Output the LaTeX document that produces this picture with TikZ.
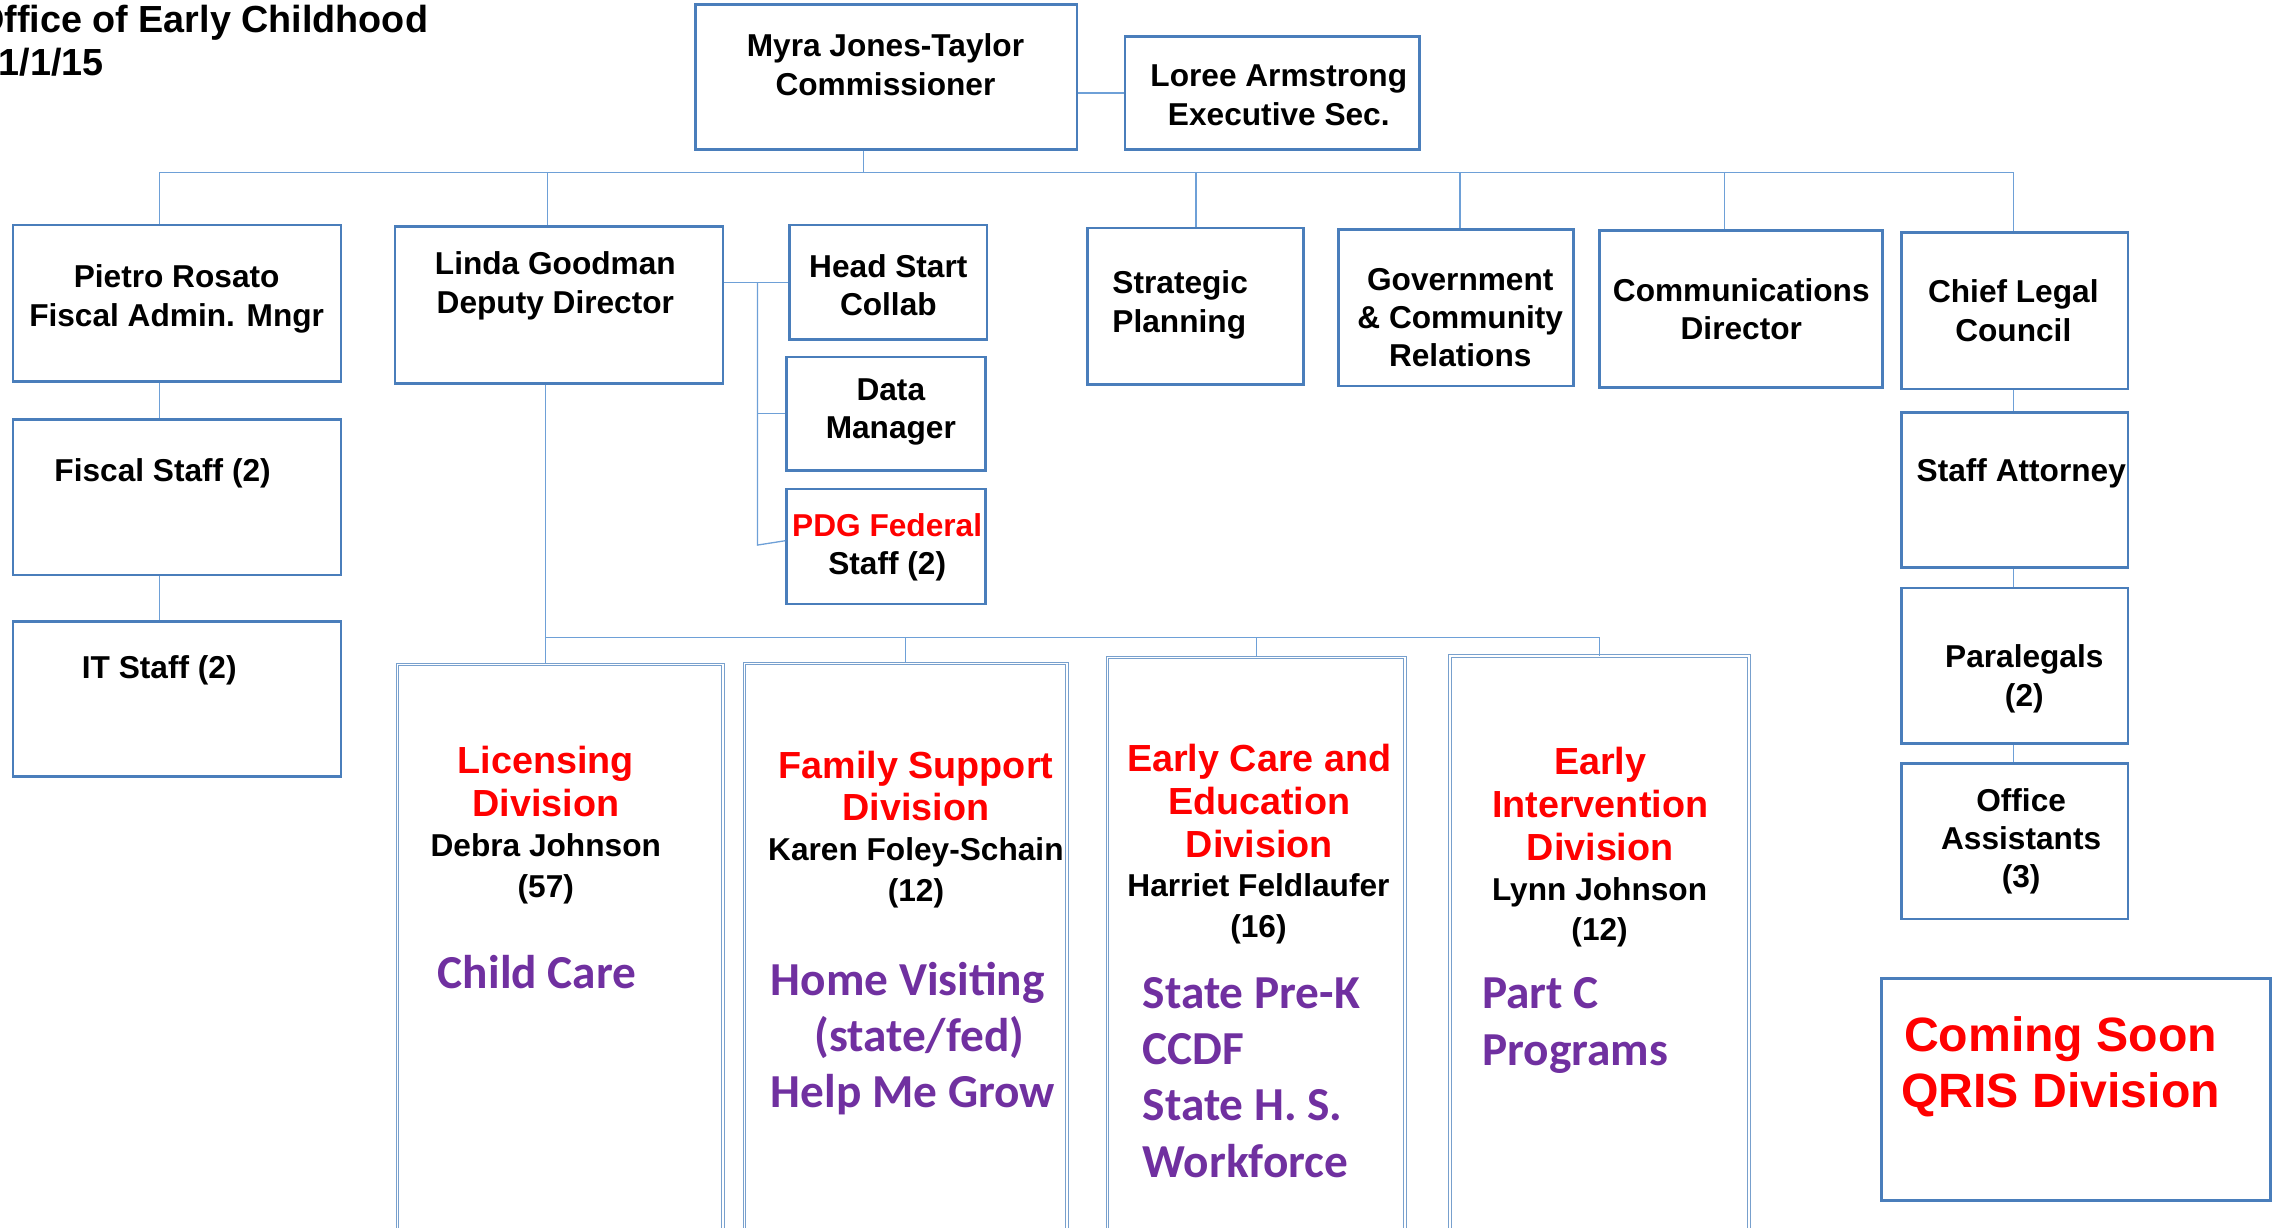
\documentclass[tikz,border=0pt]{standalone}
\usepackage{fontspec}
\setmainfont{Liberation Sans}
\newfontfamily\progfamily{Carlito}
\usepackage{tikz}
\usetikzlibrary{calc}

\definecolor{boxblue}{RGB}{74,126,187}
\definecolor{divblue}{RGB}{120,160,205}
\definecolor{linkblue}{RGB}{110,160,215}
\definecolor{oecred}{RGB}{255,0,0}
\definecolor{oecpurple}{RGB}{112,48,160}

\def\boxfont{\fontsize{10.9}{13.2}\selectfont\bfseries}
\def\headfont{\fontsize{13}{14.8}\selectfont\bfseries}
\def\namefont{\fontsize{10.9}{14}\selectfont\bfseries}
\def\progfont{\progfamily\fontsize{16.3}{19.4}\selectfont\bfseries}
\def\soonfont{\fontsize{16.6}{19.3}\selectfont\bfseries}
\def\titlefont{\fontsize{13}{14.5}\selectfont\bfseries}

\tikzset{
	orgbox/.style={draw=boxblue, line width=0.9pt, inner sep=0pt},
	divbox/.style={draw=divblue, double=white, double distance=0.45pt, line width=0.35pt, inner sep=0pt},
	link/.style={draw=linkblue, line width=0.45pt},
	lbl/.style={font=\boxfont, align=center, inner sep=0pt},
	divhead/.style={font=\headfont, text=oecred, align=center, inner sep=0pt},
	divname/.style={font=\namefont, align=center, inner sep=0pt},
	prog/.style={font=\progfont, text=oecpurple, align=left, inner sep=0pt, anchor=west},
	titletxt/.style={font=\titlefont, inner sep=0pt, anchor=west},
}

\begin{document}
\begin{tikzpicture}[x=0.5pt, y=-0.5pt]
		%%%%% START %%%%%
		
		\useasboundingbox (0,0) rectangle (1568,846);
		\clip (0,0) rectangle (1568,846);
		
		\node[titletxt] (title) at (-17.5,16) {Office of Early Childhood};
		\node[titletxt] (date) at (-1.4,43) {1/1/15};
		
		\node[orgbox, minimum width=131.5pt, minimum height=50pt] (myra) at (610.5,53) {};
		\node[orgbox, minimum width=101.5pt, minimum height=39pt] (loree) at (876.5,64) {};
		
		\node[orgbox, minimum width=113pt, minimum height=54pt] (pietro) at (122,209) {};
		\node[orgbox, minimum width=113pt, minimum height=54pt] (linda) at (385,210) {};
		\node[orgbox, minimum width=68pt, minimum height=39.5pt] (headstart) at (612,194.5) {};
		\node[orgbox, minimum width=68.5pt, minimum height=39pt] (datamgr) at (610.5,285) {};
		\node[orgbox, minimum width=68.5pt, minimum height=39.5pt] (pdg) at (610.5,376.5) {};
		\node[orgbox, minimum width=74.5pt, minimum height=54pt] (strategic) at (823.5,211) {};
		\node[orgbox, minimum width=81pt, minimum height=54pt] (govrel) at (1003,212) {};
		\node[orgbox, minimum width=97.5pt, minimum height=54pt] (comms) at (1199.5,213) {};
		\node[orgbox, minimum width=78pt, minimum height=54pt] (legal) at (1388,214) {};
		
		\node[orgbox, minimum width=113pt, minimum height=53.5pt] (fiscal) at (122,342.5) {};
		\node[orgbox, minimum width=113pt, minimum height=53.5pt] (itstaff) at (122,481.5) {};
		
		\node[orgbox, minimum width=78pt, minimum height=53.5pt] (attorney) at (1388,337.5) {};
		\node[orgbox, minimum width=78pt, minimum height=53.5pt] (paralegal) at (1388,458.5) {};
		\node[orgbox, minimum width=78pt, minimum height=53.5pt] (offasst) at (1388,579.5) {};
		\node[orgbox, minimum width=133.8pt, minimum height=76.5pt] (qris) at (1430.2,750.5) {};
		
		\node[divbox, minimum width=112pt, minimum height=206pt] (licdiv) at (386,664) {};
		\node[divbox, minimum width=111pt, minimum height=206.5pt] (famdiv) at (624,663.5) {};
		\node[divbox, minimum width=102.5pt, minimum height=208.5pt] (ecediv) at (865.5,661.5) {};
		\node[divbox, minimum width=103pt, minimum height=209pt] (eidiv) at (1102,661) {};
		
		\draw[link] (myra.east |- loree.west) -- (loree.west);
		\draw[link] ($(myra.south)+(-15.5,0)$) -- ++(0,15) coordinate (topbus);
		\draw[link] ($(pietro.north |- topbus)+(-12.3,0)$) -- ($(legal.north |- topbus)+(-0.8,0)$);
		\draw[link] ($(pietro.north |- topbus)+(-12.3,0)$) -- ($(pietro.north)+(-12.3,0)$);
		\draw[link] ($(linda.north |- topbus)+(-7.7,0)$) -- ($(linda.north)+(-7.7,0)$);
		\draw[link] ($(strategic.north |- topbus)+(0.5,0)$) -- ($(strategic.north)+(0.5,0)$);
		\draw[link] ($(govrel.north |- topbus)+(2.8,0)$) -- ($(govrel.north)+(2.8,0)$);
		\draw[link] ($(comms.north |- topbus)+(-11.5,0)$) -- ($(comms.north)+(-11.5,0)$);
		\draw[link] ($(legal.north |- topbus)+(-0.8,0)$) -- ($(legal.north)+(-0.8,0)$);
		
		\draw[link] ($(pietro.south)+(-12.3,0)$) -- ($(fiscal.north)+(-12.3,0)$);
		\draw[link] ($(fiscal.south)+(-12.3,0)$) -- ($(itstaff.north)+(-12.3,0)$);
		
		\draw[link] (linda.east |- headstart.west) -- (headstart.west);
		\coordinate (sidebus) at ($(linda.east |- headstart.west)+(23,0)$);
		\draw[link] (sidebus) |- (datamgr.west);
		\draw[link] (sidebus) -- ($(sidebus |- pdg.west)+(0,-1)$) -- ($(pdg.west)+(0,-4)$);
		
		\draw[link] ($(linda.south)+(-9,0)$) -- ($(licdiv.north)+(-10,0)$);
		\coordinate (divbus) at (376,439);
		\draw[link] (divbus) -- (divbus -| eidiv.north);
		\draw[link] (divbus -| famdiv.north) -- (famdiv.north);
		\draw[link] (divbus -| ecediv.north) -- (ecediv.north);
		\draw[link] (divbus -| eidiv.north) -- (eidiv.north);
		
		\draw[link] ($(legal.south)+(-0.8,0)$) -- ($(attorney.north)+(-0.8,0)$);
		\draw[link] ($(attorney.south)+(-0.8,0)$) -- ($(paralegal.north)+(-0.8,0)$);
		\draw[link] ($(paralegal.south)+(-0.8,0)$) -- ($(offasst.north)+(-0.8,0)$);
		
		\node[lbl] (myra-t) at (610,44.5) {Myra Jones-Taylor\\Commissioner};
		\node[lbl] (loree-t) at (881,65.7) {Loree Armstrong\\Executive Sec.};
		\node[lbl] (pietro-t) at (121.7,206) {Pietro Rosato\\Fiscal Admin. Mngr};
		\node[lbl] (linda-t) at (382.6,197) {Linda Goodman\\Deputy Director};
		\node[lbl] (headstart-t) at (612,196.5) {Head Start\\Collab};
		\node[lbl] (datamgr-t) at (613.7,284) {Data\\Manager};
		\node[lbl] (pdg-t) at (611.2,377) {\textcolor{oecred}{PDG Federal}\\Staff (2)};
		\node[lbl, align=left, anchor=west] (strategic-t) at (766,210) {Strategic\\Planning};
		\node[lbl] (govrel-t) at (1006,218.7) {Government\\\& Community\\Relations};
		\node[lbl] (comms-t) at (1199.6,213) {Communications\\Director};
		\node[lbl] (legal-t) at (1387,214) {Chief Legal\\Council};
		\node[lbl] (fiscal-t) at (112,326) {Fiscal Staff (2)};
		\node[lbl] (itstaff-t) at (109.7,462) {IT Staff (2)};
		\node[lbl] (attorney-t) at (1392.5,326) {Staff Attorney};
		\node[lbl] (paralegal-t) at (1394.6,467.7) {Paralegals\\(2)};
		\node[lbl] (offasst-t) at (1392.4,579.5) {Office\\Assistants\\(3)};
		\node[lbl, font=\soonfont, text=oecred] (qris-t) at (1419.6,735) {Coming Soon\\QRIS Division};
		
		\node[divhead] (lic-h) at (376,538.2) {Licensing\\Division};
		\node[divname] (lic-n) at (376,598.5) {Debra Johnson\\(57)};
		\node[prog] (lic-p) at (301.3,670) {Child Care};
		
		\node[divhead] (fam-h) at (631,541.5) {Family Support\\Division};
		\node[divname] (fam-n) at (631,601.5) {Karen Foley-Schain\\(12)};
		\node[prog] (fam-p) at (530.6,715.5) {Home Visiting\\\hspace*{15pt}(state/fed)\\Help Me Grow};
		
		\node[divhead] (ece-h) at (867.5,551.8) {Early Care and\\Education\\Division};
		\node[divname] (ece-n) at (867,626) {Harriet Feldlaufer\\(16)};
		\node[prog] (ece-p) at (786.9,742.3) {State Pre-K\\CCDF\\State H. S.\\Workforce};
		
		\node[divhead] (ei-h) at (1102.4,554) {Early\\Intervention\\Division};
		\node[divname] (ei-n) at (1102,628.5) {Lynn Johnson\\(12)};
		\node[prog] (ei-p) at (1020.8,706.4) {Part C\\Programs};
		
		%%%%% END %%%%%
	\end{tikzpicture}
\end{document}
